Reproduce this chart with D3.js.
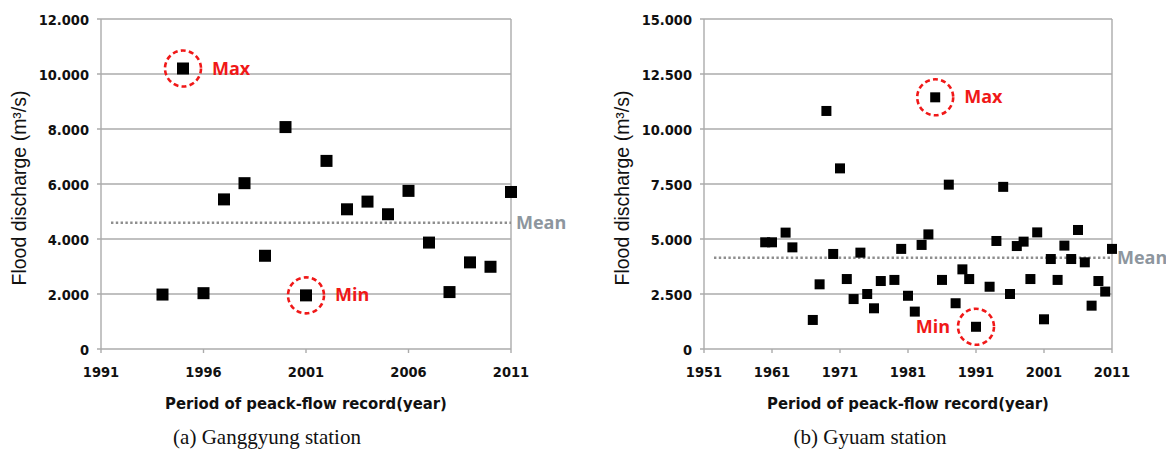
<!DOCTYPE html>
<html>
<head>
<meta charset="utf-8">
<script src="https://cdn.jsdelivr.net/npm/d3@7"></script>
<style>
  body { margin: 0; background: #fff; }
  .tick-lbl { font-family: "Liberation Sans Narrow", "DejaVu Sans Condensed", sans-serif; font-weight: bold; font-size: 14.5px; fill: #111; }
  .x-title { font-family: "Liberation Sans Narrow", "DejaVu Sans Condensed", sans-serif; font-weight: bold; font-size: 16.5px; fill: #111; }
  .y-title { font-family: "Liberation Sans", Arial, sans-serif; font-size: 19.5px; fill: #111; }
  .caption { font-family: "Liberation Serif", "Times New Roman", serif; font-size: 21px; fill: #111; }
  .note { font-family: "Open Sans", sans-serif; font-weight: bold; font-size: 18px; }
</style>
</head>
<body>
<script>
// (a) Ganggyung station - annual peak flood discharge
var ggYears = [1994,1995,1996,1997,1998,1999,2000,2001,2002,2003,2004,2005,2006,2007,2008,2009,2010,2011];
var ggFlow  = [1980,10200,2030,5440,6030,3390,8070,1950,6840,5080,5360,4900,5750,3870,2070,3150,2990,5710];
var ggMean  = 4590;
var ggXTicks = [1991,1996,2001,2006,2011];
var ggYTicks = [0,2000,4000,6000,8000,10000,12000];

// (b) Gyuam station
var gyYears = [1960,1961,1963,1964,1967,1968,1969,1970,1971,1972,1973,1974,1975,1976,1977,1979,1980,1981,1982,1983,
               1984,1985,1986,1987,1988,1989,1990,1991,1993,1994,1995,1996,1997,1998,1999,2000,2001,2002,2003,2004,
               2005,2006,2007,2008,2009,2010,2011];
var gyFlow  = [4850,4850,5290,4620,1320,2940,10820,4320,8210,3180,2270,4380,2500,1850,3090,3140,4550,2420,1700,4730,
               5210,11440,3140,7470,2080,3620,3180,1010,2830,4910,7370,2500,4680,4880,3180,5300,1350,4090,3140,4700,
               4090,5410,3940,1970,3090,2610,4550];
var gyMean  = 4150;
var gyXTicks = [1951,1961,1971,1981,1991,2001,2011];
var gyYTicks = [0,2500,5000,7500,10000,12500,15000];

var xTitle = "Period of peack-flow record(year)";
var yTitle = "Flood discharge (m\u00b3/s)";

var svg = d3.select("body").append("svg")
    .attr("width", 1166)
    .attr("height", 452);

var fmt = function(d) { return d3.format(",")(d).replace(/,/g, "."); };

function drawPanel(p) {
    var x = d3.scaleLinear().domain([p.xTicks[0], p.xTicks[p.xTicks.length-1]]).range([p.left, p.right]);
    var y = d3.scaleLinear().domain([0, p.yTicks[p.yTicks.length-1]]).range([349, 19]);
    var g = svg.append("g");
    var grid = "#ababab";

    // horizontal gridlines (extend a little left as y ticks)
    g.selectAll(".grid").data(p.yTicks.slice(1))
        .enter().append("line")
        .attr("x1", p.left - 4).attr("x2", p.right)
        .attr("y1", function(d) { return y(d); }).attr("y2", function(d) { return y(d); })
        .attr("stroke", grid).attr("stroke-width", 1.4);

    // axes + right border
    g.append("line").attr("x1", p.left).attr("x2", p.left).attr("y1", y(0)).attr("y2", y.range()[1])
        .attr("stroke", grid).attr("stroke-width", 1.4);
    g.append("line").attr("x1", p.right).attr("x2", p.right).attr("y1", y(0)).attr("y2", y.range()[1])
        .attr("stroke", grid).attr("stroke-width", 1.4);
    g.append("line").attr("x1", p.left - 4).attr("x2", p.right).attr("y1", y(0)).attr("y2", y(0))
        .attr("stroke", grid).attr("stroke-width", 1.4);

    // x ticks
    g.selectAll(".xt").data(p.xTicks)
        .enter().append("line")
        .attr("x1", function(d) { return x(d); }).attr("x2", function(d) { return x(d); })
        .attr("y1", y(0)).attr("y2", y(0) + 4)
        .attr("stroke", grid).attr("stroke-width", 1.4);

    g.selectAll(".xl").data(p.xTicks)
        .enter().append("text")
        .attr("class", "tick-lbl")
        .attr("x", function(d) { return x(d); })
        .attr("y", 377)
        .attr("text-anchor", "middle")
        .text(function(d) { return d; });

    g.selectAll(".yl").data(p.yTicks)
        .enter().append("text")
        .attr("class", "tick-lbl")
        .attr("x", p.left - 12)
        .attr("y", function(d) { return y(d) + 6; })
        .attr("text-anchor", "end")
        .text(fmt);

    // mean line
    g.append("line")
        .attr("x1", p.left + 10).attr("x2", p.right)
        .attr("y1", y(p.mean)).attr("y2", y(p.mean))
        .attr("stroke", "#8e8e8e").attr("stroke-width", 2.4)
        .attr("stroke-dasharray", "2.4,2.4");
    g.append("text").attr("class", "note")
        .attr("x", p.right + 5).attr("y", y(p.mean) + 6)
        .attr("fill", "#8d969e")
        .text("Mean");

    // points
    var pts = p.years.map(function(d, i) { return {year: d, flow: p.flow[i]}; });
    g.selectAll(".pt").data(pts)
        .enter().append("rect")
        .attr("x", function(d) { return x(d.year) - p.size/2; })
        .attr("y", function(d) { return y(d.flow) - p.size/2; })
        .attr("width", p.size).attr("height", p.size)
        .attr("fill", "#000");

    // max / min markers
    var mx = pts[d3.maxIndex(pts, function(d) { return d.flow; })];
    var mn = pts[d3.minIndex(pts, function(d) { return d.flow; })];
    [[mx, "Max", p.maxSide], [mn, "Min", p.minSide]].forEach(function(a) {
        var cx = x(a[0].year), cy = y(a[0].flow);
        g.append("circle").attr("cx", cx).attr("cy", cy).attr("r", 18)
            .attr("fill", "none").attr("stroke", "#f01818").attr("stroke-width", 2.6)
            .attr("stroke-dasharray", "5,3.2");
        g.append("text").attr("class", "note")
            .attr("x", a[2] > 0 ? cx + 29 : cx - 26)
            .attr("y", cy + 6)
            .attr("text-anchor", a[2] > 0 ? "start" : "end")
            .attr("fill", "#f01818")
            .text(a[1]);
    });

    // titles
    var xc = (p.left + p.right) / 2;
    svg.append("text").attr("class", "x-title")
        .attr("x", xc).attr("y", 409).attr("text-anchor", "middle").text(xTitle);
    svg.append("text").attr("class", "y-title")
        .attr("transform", "translate(" + (p.left - 75) + ",188) rotate(-90)")
        .attr("text-anchor", "middle").text(yTitle);
    svg.append("text").attr("class", "caption")
        .attr("x", p.capX).attr("y", 444).attr("text-anchor", "middle").text(p.caption);
}

drawPanel({years: ggYears, flow: ggFlow, mean: ggMean, xTicks: ggXTicks, yTicks: ggYTicks,
           left: 101, right: 511, size: 12, maxSide: 1, minSide: 1,
           capX: 267, caption: "(a) Ganggyung station"});
drawPanel({years: gyYears, flow: gyFlow, mean: gyMean, xTicks: gyXTicks, yTicks: gyYTicks,
           left: 704, right: 1112, size: 10, maxSide: 1, minSide: -1,
           capX: 870, caption: "(b) Gyuam station"});
</script>
</body>
</html>
